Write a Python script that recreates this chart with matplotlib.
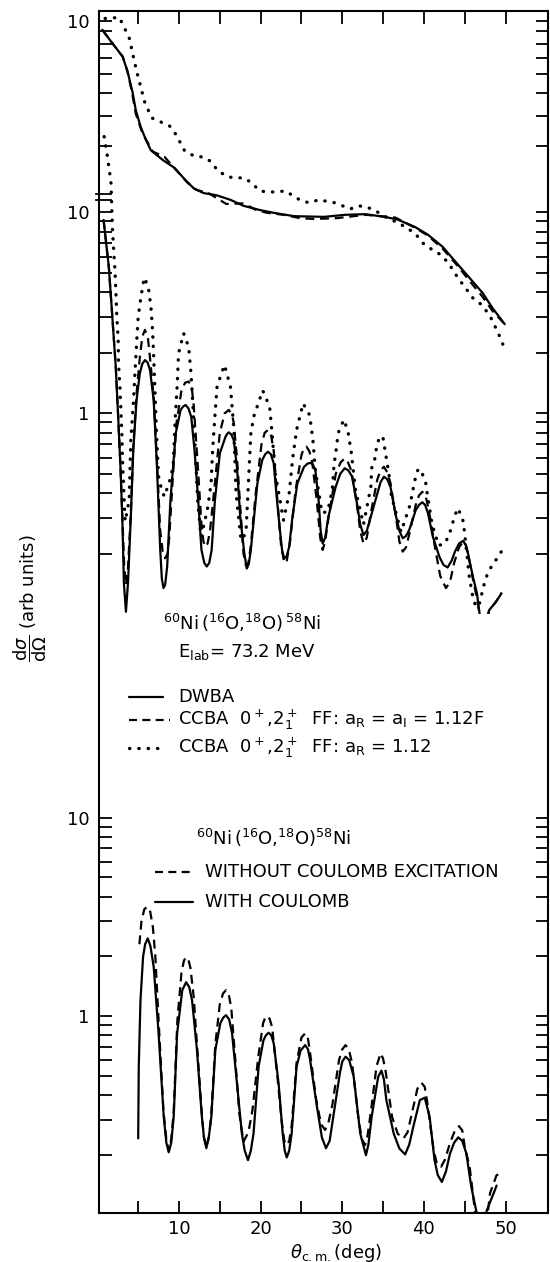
import numpy as np
import matplotlib
matplotlib.use("Agg")
import matplotlib.pyplot as plt
from matplotlib.lines import Line2D

plt.rcParams["font.family"] = ["DejaVu Sans"]
plt.rcParams["mathtext.fontset"] = "dejavusans"

# ---------------- upper set (own shifted scale) ----------------
top_dwba_deg = [0.6, 1.85, 3.1, 3.7, 4.3, 4.7, 5.3, 5.95, 6.55, 8.03, 9.47, 10.8, 11.8, 13.0,
                14.6, 16.3, 17.9, 20.0, 21.6, 24.1, 27.8, 30.3, 32.8, 35.2, 36.8, 38.9,
                40.5, 42.3, 43.9, 45.5, 47.2, 48.4, 49.9]
top_dwba_val = [9.15, 8.03, 7.07, 6.12, 5.05, 4.24, 3.61, 3.18, 2.88, 2.62, 2.43, 2.16, 2.00, 1.91,
                1.87, 1.79, 1.69, 1.62, 1.58, 1.53, 1.52, 1.55, 1.56, 1.52, 1.48, 1.38,
                1.28, 1.14, 0.985, 0.853, 0.732, 0.634, 0.543]

top_ccba_deg = [0.6, 1.85, 3.1, 3.7, 4.3, 4.7, 5.5, 6.8, 8.2, 9.65, 11.1, 12.1, 13.6, 15.8,
                17.9, 19.5, 20.8, 22.8, 24.9, 26.5, 29.2, 32.9, 36.5, 38.9, 40.5, 42.3,
                43.9, 45.8, 47.2, 48.4, 49.9]
top_ccba_val = [9.15, 8.03, 7.07, 6.12, 4.9, 4.1, 3.40, 2.84, 2.71, 2.38, 2.10, 1.97, 1.91, 1.72,
                1.73, 1.62, 1.58, 1.55, 1.50, 1.49, 1.50, 1.55, 1.51, 1.37, 1.27, 1.12,
                0.97, 0.806, 0.705, 0.617, 0.543]

top_ccba2_deg = [0.95, 2.7, 3.9, 4.8, 5.8, 6.65, 7.75, 8.86, 9.5, 9.85, 10.7, 11.9, 12.9, 13.8,
                 14.8, 16.0, 17.0, 17.9, 18.8, 19.9, 20.8, 21.9, 23.0, 24.0, 25.0, 26.0,
                 27.1, 29.1, 31.0, 32.0, 33.0, 34.1, 35.1, 37.1, 38.9, 39.9, 41.0, 42.0,
                 43.0, 44.1, 45.0, 46.0, 47.1, 48.1, 49.1, 49.9]
top_ccba2_val = [10.2, 10.3, 8.46, 6.16, 4.57, 3.93, 3.78, 3.63, 3.40, 3.24, 2.86, 2.72, 2.70, 2.60,
                 2.36, 2.23, 2.21, 2.21, 2.12, 1.95, 1.93, 1.93, 1.95, 1.86, 1.77, 1.74,
                 1.79, 1.74, 1.64, 1.69, 1.67, 1.61, 1.53, 1.42, 1.30, 1.18, 1.11, 1.06,
                 0.977, 0.853, 0.776, 0.698, 0.653, 0.587, 0.499, 0.428]

# ---------------- middle set: 60Ni(16O,18O)58Ni, E_lab = 73.2 MeV ----------------
mid_dwba_deg = [0.76, 1.4, 1.83, 2.25, 2.55, 2.83, 3.05, 3.25, 3.5, 3.75, 4.1, 4.4, 4.8, 5.2,
                5.5, 5.83, 6.15, 6.45, 6.9, 7.3, 7.7, 7.9, 8.1, 8.3, 8.55, 8.95, 9.6, 10.2,
                10.5, 10.8, 11.15, 11.5, 11.9, 12.35, 12.75, 13.1, 13.4, 13.7, 14.0, 14.4,
                15.0, 15.7, 15.9, 16.1, 16.4, 16.7, 17.1, 17.5, 18.0, 18.3, 18.55, 18.8,
                19.2, 19.6, 20.2, 20.55, 20.9, 21.25, 21.6, 22.0, 22.4, 22.65, 22.9, 23.2,
                23.5, 23.9, 24.5, 25.3, 25.7, 26.1, 26.4, 26.7, 27.1, 27.35, 27.6, 27.9,
                28.3, 29.2, 29.75, 30.3, 30.75, 31.2, 31.8, 32.2, 32.6, 33.0, 33.5, 34.3,
                34.7, 35.1, 35.5, 35.9, 36.5, 37.0, 37.4, 37.8, 38.2, 39.0, 39.4, 39.8,
                40.15, 40.5, 41.1, 41.9, 42.4, 42.9, 43.4, 43.8, 44.3, 44.8, 45.1, 45.4,
                46.0, 46.5, 46.9, 47.6, 48.0, 48.8, 49.5]
mid_dwba_val = [9.16, 5.36, 3.03, 1.71, 0.96, 0.54, 0.306, 0.143, 0.103, 0.143, 0.306, 0.657, 1.16, 1.58,
                1.76, 1.84, 1.79, 1.64, 1.16, 0.54, 0.209, 0.15, 0.135, 0.14, 0.173, 0.370, 0.795, 1.04,
                1.08, 1.10, 1.06, 0.96, 0.657, 0.370, 0.209, 0.18, 0.173, 0.18, 0.209, 0.370,
                0.632, 0.765, 0.79, 0.804, 0.785, 0.737, 0.54, 0.306, 0.201, 0.169, 0.178, 0.209,
                0.306, 0.448, 0.586, 0.625, 0.644, 0.625, 0.564, 0.370, 0.253, 0.205, 0.190, 0.195,
                0.217, 0.306, 0.448, 0.54, 0.56, 0.568, 0.555, 0.522, 0.370, 0.26, 0.225, 0.24,
                0.306, 0.432, 0.50, 0.533, 0.52, 0.484, 0.356, 0.28, 0.248, 0.26, 0.306, 0.400,
                0.455, 0.484, 0.47, 0.432, 0.318, 0.26, 0.239, 0.245, 0.263, 0.330, 0.35, 0.361,
                0.35, 0.318, 0.243, 0.193, 0.176, 0.171, 0.185, 0.205, 0.225, 0.232, 0.222, 0.201,
                0.154, 0.127, 0.095, 0.09, 0.105, 0.115, 0.127]

mid_ccba_deg = [0.76, 1.4, 1.83, 2.25, 2.55, 2.83, 3.05, 3.3, 3.5, 3.75, 4.1, 4.4, 4.8, 5.2,
                5.5, 5.83, 6.2, 6.5, 6.9, 7.3, 7.7, 8.0, 8.3, 8.6, 8.8, 9.2, 9.7, 10.3, 10.75,
                11.2, 11.6, 11.8, 12.3, 12.75, 13.0, 13.2, 13.5, 13.8, 14.4, 15.0, 15.6, 16.1,
                16.5, 16.7, 17.1, 17.6, 17.9, 18.2, 18.5, 18.8, 19.4, 20.1, 20.5, 20.9, 21.3,
                21.6, 22.1, 22.5, 22.9, 23.2, 23.6, 24.3, 25.0, 25.3, 25.6, 25.95, 26.3,
                26.9, 27.3, 27.6, 27.9, 28.3, 29.2, 29.8, 30.3, 30.7, 31.1, 31.8, 32.2, 32.6,
                33.0, 33.5, 34.3, 34.7, 35.1, 35.5, 35.9, 36.6, 37.0, 37.4, 37.8, 38.2, 39.0,
                39.4, 39.8, 40.2, 40.6, 41.4, 42.0, 42.7, 43.2, 43.7, 44.3, 44.8, 45.1, 45.4,
                46.0, 46.5, 46.9, 47.6, 48.0, 48.8, 49.5]
mid_ccba_val = [9.16, 5.36, 3.03, 1.71, 0.96, 0.54, 0.31, 0.17, 0.14, 0.17, 0.32, 0.68, 1.25, 1.9,
                2.4, 2.6, 2.35, 1.8, 1.2, 0.58, 0.26, 0.205, 0.19, 0.2, 0.24, 0.45, 0.9, 1.3, 1.42,
                1.44, 1.3, 1.1, 0.55, 0.28, 0.23, 0.217, 0.225, 0.26, 0.45, 0.8, 1.0, 1.04,
                0.98, 0.9, 0.6, 0.3, 0.2, 0.175, 0.18, 0.22, 0.4, 0.7, 0.8, 0.826, 0.77,
                0.65, 0.35, 0.22, 0.18, 0.185, 0.23, 0.42, 0.62, 0.67, 0.683, 0.65, 0.58,
                0.36, 0.24, 0.209, 0.23, 0.3, 0.5, 0.57, 0.597, 0.57, 0.52, 0.35, 0.26, 0.225,
                0.24, 0.32, 0.47, 0.52, 0.542, 0.51, 0.45, 0.3, 0.23, 0.205, 0.215, 0.25, 0.35,
                0.39, 0.407, 0.39, 0.33, 0.21, 0.155, 0.135, 0.145, 0.18, 0.215, 0.23, 0.225, 0.2,
                0.15, 0.12, 0.095, 0.09, 0.105, 0.115, 0.128]

mid_ccba2_deg = [0.83, 1.2, 1.66, 1.73, 1.85, 1.98, 2.15, 2.27, 2.39, 2.55, 2.59, 2.76, 2.88, 3.0,
                 3.08, 3.2, 3.29, 3.41, 3.9, 4.1, 4.43, 4.6, 4.85, 5.0, 5.34, 5.74, 6.23,
                 6.56, 6.76, 6.88, 7.1, 7.28, 7.5, 7.85, 8.2, 8.69, 9.02, 9.3, 9.42, 9.55,
                 9.75, 9.95, 10.56, 11.18, 11.47, 11.67, 11.88, 12.09, 12.28, 12.7, 13.47,
                 13.93, 14.12, 14.42, 14.66, 15.56, 16.3, 16.7, 16.99, 17.6, 18.2, 18.4,
                 18.6, 18.8, 19.15, 20.25, 21.1, 21.4, 21.8, 22.8, 23.5, 23.9, 24.4, 25.2,
                 26.0, 26.4, 26.7, 27.5, 28.2, 28.6, 28.8, 29.0, 29.2, 29.5, 30.2, 30.7,
                 30.9, 31.1, 31.6, 32.6, 33.5, 33.6, 34.0, 34.2, 34.6, 35.0, 35.4, 35.7,
                 36.0, 37.2, 38.3, 38.9, 39.3, 39.8, 40.2, 40.4, 41.0, 41.8, 42.6, 43.2,
                 43.5, 44.1, 44.7, 44.9, 45.3, 45.5, 45.9, 46.3, 46.7, 47.1, 47.5, 47.9,
                 48.5, 49.1, 49.6]
mid_ccba2_val = [23.8, 19.3, 14.2, 11.8, 8.32, 6.64, 5.17, 3.97, 2.98, 2.32, 1.77, 1.36, 1.04, 0.795,
                 0.586, 0.448, 0.357, 0.290, 0.371, 0.737, 1.16, 1.58, 2.4, 3.0, 3.8, 4.73, 4.27,
                 3.39, 2.60, 1.99, 1.16, 0.737, 0.484, 0.42, 0.385, 0.440, 0.484, 0.564, 0.737, 0.962,
                 1.31, 1.99, 2.50, 2.14, 1.58, 1.16, 0.795, 0.542, 0.370, 0.243, 0.330,
                 0.448, 0.657, 1.0, 1.36, 1.74, 1.36, 0.858, 0.400, 0.234, 0.253, 0.370,
                 0.542, 0.795, 0.962, 1.30, 1.08, 0.795, 0.50, 0.294, 0.40, 0.586, 0.826, 1.12,
                 0.98, 0.737, 0.523, 0.32, 0.324, 0.385, 0.431, 0.564, 0.632, 0.80, 0.93, 0.81,
                 0.72, 0.64, 0.42, 0.28, 0.431, 0.533, 0.597, 0.682, 0.771, 0.751, 0.597, 0.503,
                 0.392, 0.257, 0.35, 0.466, 0.53, 0.50, 0.457, 0.40, 0.28, 0.22, 0.225, 0.257,
                 0.283, 0.337, 0.306, 0.272, 0.193, 0.16, 0.127, 0.111, 0.109, 0.127, 0.148, 0.163,
                 0.179, 0.193, 0.209]

# ---------------- lower set: Coulomb excitation comparison ----------------
low_with_deg = [5.0, 5.07, 5.28, 5.6, 5.85, 6.17, 6.5, 6.9, 7.5, 8.13, 8.45, 8.74, 9.05, 9.35,
                9.77, 10.4, 10.87, 11.25, 11.6, 12.2, 12.8, 13.05, 13.35, 13.65, 13.96, 14.45,
                15.06, 15.4, 15.76, 16.15, 16.5, 17.1, 17.7, 18.05, 18.45, 18.8, 19.13, 19.75,
                20.35, 20.65, 20.97, 21.3, 21.6, 22.2, 22.7, 22.95, 23.2, 23.5, 23.8, 24.4,
                24.9, 25.45, 25.8, 26.06, 26.9, 27.5, 28.0, 28.45, 28.9, 29.7, 30.0, 30.4,
                30.85, 31.4, 32.2, 32.9, 33.2, 33.6, 34.4, 34.8, 35.1, 35.4, 36.3, 37.0, 37.7,
                38.2, 38.7, 39.5, 40.1, 40.7, 41.3, 41.7, 42.2, 42.7, 43.2, 43.7, 44.2, 44.7,
                45.2, 45.8, 46.4, 46.8, 47.3, 47.7, 48.7, 48.9]
low_with_val = [0.242, 0.556, 1.20, 1.99, 2.3, 2.46, 2.25, 1.77, 0.818, 0.311, 0.23, 0.206, 0.23, 0.311,
                0.818, 1.35, 1.48, 1.40, 1.20, 0.674, 0.311, 0.245, 0.216, 0.245, 0.311, 0.674,
                0.919, 0.98, 1.01, 0.96, 0.818, 0.458, 0.256, 0.21, 0.188, 0.21, 0.256, 0.556,
                0.757, 0.80, 0.824, 0.80, 0.729, 0.458, 0.256, 0.21, 0.194, 0.21, 0.256, 0.556,
                0.67, 0.714, 0.68, 0.600, 0.349, 0.245, 0.216, 0.235, 0.311, 0.514, 0.59, 0.624,
                0.60, 0.495, 0.256, 0.199, 0.225, 0.311, 0.495, 0.531, 0.48, 0.377, 0.256, 0.215, 0.201,
                0.225, 0.277, 0.377, 0.388, 0.311, 0.188, 0.158, 0.146, 0.165, 0.203, 0.23, 0.245, 0.235,
                0.203, 0.138, 0.105, 0.09, 0.09, 0.105, 0.133, 0.14]

low_without_deg = [5.15, 5.4, 5.75, 6.1, 6.45, 6.8, 7.1, 7.5, 8.1, 8.45, 8.74, 9.05, 9.35, 9.8,
                   10.3, 10.6, 10.87, 11.15, 11.4, 11.8, 12.2, 12.8, 13.05, 13.35, 13.65, 13.96,
                   14.45, 15.0, 15.4, 15.76, 16.1, 16.4, 16.9, 17.4, 17.9, 18.5, 19.0, 19.7,
                   20.3, 20.55, 20.8, 21.1, 21.4, 22.0, 22.6, 22.9, 23.2, 23.5, 23.8, 24.4, 25.0,
                   25.45, 25.75, 26.0, 26.8, 27.4, 27.9, 28.3, 28.8, 29.6, 30.0, 30.4, 30.8,
                   31.2, 32.0, 32.4, 32.8, 33.1, 33.5, 34.2, 34.7, 35.0, 35.3, 36.1, 36.8, 37.5,
                   38.0, 38.5, 39.2, 39.7, 40.1, 40.4, 41.2, 41.6, 42.1, 42.6, 43.2, 43.8, 44.3,
                   44.7, 45.0, 45.6, 45.9, 46.3, 46.7, 47.6, 48.1, 48.9, 49.5]
low_without_val = [2.3, 3.0, 3.45, 3.55, 3.4, 2.8, 2.0, 0.95, 0.33, 0.24, 0.21, 0.24, 0.33, 0.95,
                   1.65, 1.9, 1.98, 1.92, 1.75, 1.25, 0.72, 0.32, 0.245, 0.22, 0.245, 0.32,
                   0.72, 1.15, 1.3, 1.35, 1.28, 1.1, 0.6, 0.32, 0.233, 0.26, 0.336, 0.62,
                   0.92, 0.98, 1.0, 0.97, 0.88, 0.52, 0.29, 0.235, 0.224, 0.235, 0.28, 0.58, 0.78,
                   0.818, 0.79, 0.68, 0.38, 0.285, 0.267, 0.29, 0.36, 0.6, 0.68, 0.714, 0.68,
                   0.58, 0.3, 0.24, 0.224, 0.25, 0.33, 0.56, 0.649, 0.61, 0.53, 0.31, 0.255, 0.242,
                   0.26, 0.32, 0.43, 0.461, 0.44, 0.37, 0.21, 0.18, 0.174, 0.19, 0.23, 0.265, 0.279,
                   0.265, 0.22, 0.174, 0.138, 0.1, 0.085, 0.085, 0.128, 0.158, 0.161]

# tick values of the three logarithmic scales
top_ticks = [10, 9, 8, 7, 6, 5, 4, 3]
mid_ticks = [10, 9, 8, 7, 6, 5, 4, 3, 2, 1, 0.9, 0.8, 0.7, 0.6, 0.5, 0.4, 0.3, 0.2]
low_ticks = [10, 9, 8, 7, 6, 5, 4, 3, 2, 1, 0.9, 0.8, 0.7, 0.6, 0.5, 0.4, 0.3, 0.2]
tick_labels = {10: "10", 1: "1"}
x_ticks = [5, 10, 15, 20, 25, 30, 35, 40, 45, 50]

# ---------------- figure layout ----------------
W, H = 550, 1262
fig = plt.figure(figsize=(W / 100, H / 100), dpi=100)
fig.patch.set_facecolor("white")

LEFT, RIGHT = 99, 548
XLIM = (0.2, 55.2)


def box(top_px, bot_px):
    return [LEFT / W, 1 - bot_px / H, (RIGHT - LEFT) / W, (bot_px - top_px) / H]


def fpt(x, y):
    return x / W, 1 - y / H


LW = 1.6
FS = 13
SOLID = dict(color="black", lw=LW, solid_capstyle="round", solid_joinstyle="round")
DASHED = dict(color="black", lw=LW, ls=(0, (4, 2.6)))
DOTTED = dict(color="black", lw=2.4, ls=(0, (0.1, 2.7)), dash_capstyle="round")

frame = fig.add_axes(box(11, 1213))
frame.set_xlim(XLIM)
frame.set_ylim(0, 1)
frame.set_yticks([])
frame.set_xticks(x_ticks)
frame.set_xticklabels([str(t) if t % 10 == 0 else "" for t in x_ticks], fontsize=FS)
frame.tick_params(axis="x", direction="in", length=9, width=1.3, top=True, bottom=True, pad=5)
for s in frame.spines.values():
    s.set_linewidth(1.5)


def overlay(rect, ylim, ticks):
    ax = fig.add_axes(rect, sharex=frame)
    ax.set_facecolor("none")
    ax.set_yscale("log")
    ax.set_ylim(*ylim)
    for s in ax.spines.values():
        s.set_visible(False)
    ax.tick_params(axis="x", which="both", bottom=False, top=False, labelbottom=False)
    ax.set_yticks(ticks)
    ax.set_yticklabels([tick_labels.get(t, "") for t in ticks], fontsize=FS)
    ax.yaxis.set_minor_locator(matplotlib.ticker.NullLocator())
    ax.tick_params(axis="y", which="major", direction="in", length=9, width=1.3,
                   left=True, right=True, labelleft=True, labelright=False, pad=7)
    return ax


ax_top = overlay(box(11, 614), (10 ** -1.4729, 10 ** 1.0396), top_ticks)
ax_mid = overlay(box(11, 614), (10 ** -0.9985, 10 ** 2.0015), mid_ticks)
ax_low = overlay(box(614, 1213), (10 ** -0.992, 10 ** 2.025), low_ticks)

# upper curves
ax_top.plot(top_dwba_deg, top_dwba_val, **SOLID)
ax_top.plot(top_ccba_deg, top_ccba_val, **DASHED)
ax_top.plot(top_ccba2_deg, top_ccba2_val, **DOTTED)

# middle curves
ax_mid.plot(mid_dwba_deg, mid_dwba_val, **SOLID)
ax_mid.plot(mid_ccba_deg, mid_ccba_val, **DASHED)
ax_mid.plot(mid_ccba2_deg, mid_ccba2_val, **DOTTED)

# lower curves
ax_low.plot(low_with_deg, low_with_val, **SOLID)
ax_low.plot(low_without_deg, low_without_val, **DASHED)

# scale break on the left axis
for yb in (193.5, 199.5):
    fig.add_artist(Line2D([96 / W, 111 / W], [1 - yb / H] * 2, transform=fig.transFigure,
                          color="black", lw=1.3))

# annotations of the middle set
fig.text(*fpt(163, 623), r"$^{60}$Ni$\,$($^{16}$O,$^{18}$O)$\,^{58}$Ni", fontsize=FS, va="center", ha="left")
fig.text(*fpt(178, 652), r"E$_{\rm lab}$= 73.2 MeV", fontsize=FS, va="center", ha="left")

fig.add_artist(Line2D([129 / W, 163 / W], [1 - 697 / H] * 2, transform=fig.transFigure, **SOLID))
fig.text(*fpt(178, 697), "DWBA", fontsize=FS, va="center", ha="left")
fig.add_artist(Line2D([129 / W, 170 / W], [1 - 720 / H] * 2, transform=fig.transFigure,
                      color="black", lw=LW, ls=(0, (3.6, 2.4))))
fig.text(*fpt(178, 720), r"CCBA  0$^+$,2$^+_{\rm 1}$  FF: a$_{\rm R}$ = a$_{\rm I}$ = 1.12F",
         fontsize=FS, va="center", ha="left")
fig.add_artist(Line2D([129 / W, 162 / W], [1 - 748 / H] * 2, transform=fig.transFigure, **DOTTED))
fig.text(*fpt(178, 748), r"CCBA  0$^+$,2$^+_{\rm 1}$  FF: a$_{\rm R}$ = 1.12",
         fontsize=FS, va="center", ha="left")

# annotations of the lower set
fig.text(*fpt(196, 838), r"$^{60}$Ni$\,$($^{16}$O,$^{18}$O)$^{58}$Ni", fontsize=FS, va="center", ha="left")
fig.add_artist(Line2D([155 / W, 193 / W], [1 - 872 / H] * 2, transform=fig.transFigure,
                      color="black", lw=LW, ls=(0, (3.6, 2.4))))
fig.text(*fpt(205, 872), "WITHOUT COULOMB EXCITATION", fontsize=FS, va="center", ha="left")
fig.add_artist(Line2D([155 / W, 193 / W], [1 - 902 / H] * 2, transform=fig.transFigure, **SOLID))
fig.text(*fpt(205, 902), "WITH COULOMB", fontsize=FS, va="center", ha="left")

# axis titles
fig.text(*fpt(30, 598), r"$\dfrac{\mathrm{d}\sigma}{\mathrm{d}\Omega}$ (arb units)", fontsize=FS,
         rotation=90, va="center", ha="center")
fig.text(*fpt(336, 1253), r"$\theta_{\rm c.m.}$(deg)", fontsize=FS, va="center", ha="center")

fig.savefig("out.png", dpi=100, facecolor="white")
